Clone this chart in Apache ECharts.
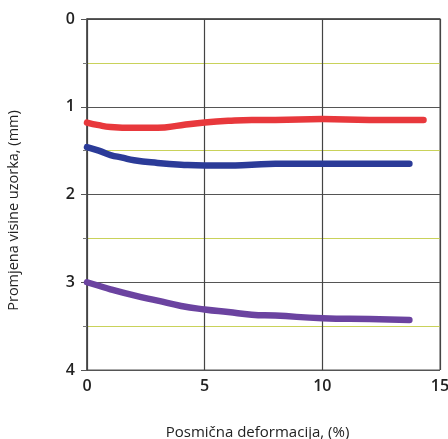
<!DOCTYPE html>
<html><head><meta charset="utf-8">
<script src="https://cdn.jsdelivr.net/npm/echarts@6/dist/echarts.min.js"></script>
<style>html,body{margin:0;padding:0;background:#fff}#c{width:448px;height:439px}</style>
</head><body><div id="c"></div>
<script>
const redSeries = [[0,1.18],[0.5,1.21],[1,1.23],[2,1.24],[3,1.24],[4,1.21],[5,1.18],[6,1.16],[7,1.15],[8,1.15],[10,1.14],[12,1.15],[14.3,1.15]];
const blueSeries = [[0,1.46],[0.5,1.50],[1,1.55],[1.5,1.58],[2,1.61],[3,1.64],[4,1.66],[5,1.67],[6,1.67],[7,1.66],[8,1.65],[10,1.65],[12,1.65],[13.7,1.65]];
const purpleSeries = [[0,3.0],[0.5,3.04],[1,3.08],[2,3.15],[3,3.21],[4,3.27],[5,3.31],[6,3.34],[7,3.37],[8,3.38],[10,3.41],[12,3.42],[13.7,3.43]];
const xTitle = 'Posmična deformacija, (%)';
const yTitle = 'Promjena visine uzorka, (mm)';

const chart = echarts.init(document.getElementById('c'));
const font = 'Open Sans';
function line(data, color){
  return {type:'line', data, smooth:true, symbol:'none', lineStyle:{color, width:6.5, cap:'round'}, z:3};
}
chart.setOption({
  animation:false,
  grid:{left:87, right:8, top:19, bottom:69, containLabel:false, outerBoundsMode:'none',
    show:true, borderColor:'#555', borderWidth:1, backgroundColor:'transparent'},
  xAxis:{type:'value', min:0, max:15, interval:5,
    name:xTitle, nameLocation:'middle', nameGap:55,
    nameTextStyle:{fontFamily:font, fontSize:15, color:'#222', padding:[0,12,0,0]},
    axisLine:{lineStyle:{color:'#444', width:1.5}},
    axisTick:{show:true, length:5, lineStyle:{color:'#444'}},
    axisLabel:{fontFamily:font, fontSize:16, fontWeight:600, color:'#222', margin:8},
    splitLine:{show:true, lineStyle:{color:'#444', width:1.2}}
  },
  yAxis:{type:'value', inverse:true, min:0, max:4, interval:1,
    name:yTitle, nameLocation:'middle', nameGap:66,
    nameTextStyle:{fontFamily:font, fontSize:14.5, color:'#222', padding:[0,32,0,0]},
    axisLine:{show:true, lineStyle:{color:'#444', width:1.5}},
    axisTick:{show:true, length:6, lineStyle:{color:'#555'}},
    minorTick:{show:true, splitNumber:2, length:4, lineStyle:{color:'#777'}},
    axisLabel:{fontFamily:font, fontSize:16, fontWeight:600, color:'#222', margin:12},
    splitLine:{show:true, lineStyle:{color:'#555', width:1.2}},
    minorSplitLine:{show:true, lineStyle:{color:'#c9d25a', width:1.2}}
  },
  series:[
    line(redSeries,'#e8383c'),
    line(blueSeries,'#2b3b98'),
    line(purpleSeries,'#6b43a0')
  ]
});
</script></body></html>
